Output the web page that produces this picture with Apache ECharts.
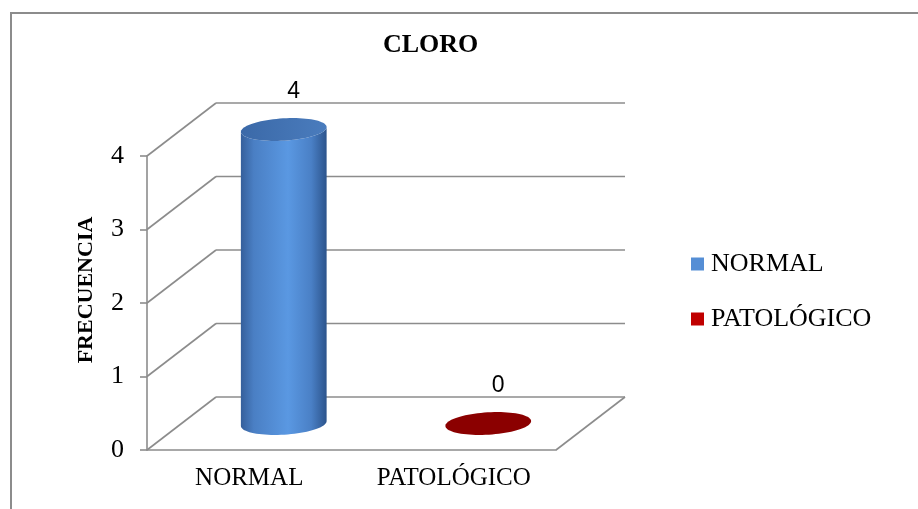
<!DOCTYPE html>
<html>
<head>
<meta charset="utf-8">
<script src="https://cdn.jsdelivr.net/npm/echarts@6/dist/echarts.min.js"></script>
<style>
  html, body { margin: 0; padding: 0; background: #ffffff; }
  #chart { width: 918px; height: 509px; }
</style>
</head>
<body>
<div id="chart"></div>
<script>
// Chart data
const categories = ['NORMAL', 'PATOLÓGICO'];
const frecuencia = [4, 0];
const yTicks = [0, 1, 2, 3, 4];
const chartTitle = 'CLORO';
const yAxisTitle = 'FRECUENCIA';

// Styling
const SERIF = '"Liberation Serif", "Times New Roman", serif';
const seriesColors = ['#558ed5', '#c00000'];
const topColors = [['#3b69a8', '#4a7cbd'], ['#8b0000', '#8b0000']];
const bodyStops = [
  [['#355f9b', 0], ['#4a7fc4', 0.15], ['#5a98e2', 0.55], ['#4a80c6', 0.82], ['#2c548c', 1]],
  [['#7a0000', 0], ['#b00000', 0.5], ['#7a0000', 1]]
];
const DX = 69, DY = -53;          // depth offset of the back wall
const GRID_COLOR = '#8c8c8c';
const TILT = -0.06;               // slight tilt of the cylinder caps

function ellipsePoints(cx, cy, rx, ry, t0, t1, n) {
  const pts = [];
  const c = Math.cos(TILT), s = Math.sin(TILT);
  for (let k = 0; k <= n; k++) {
    const t = t0 + (t1 - t0) * k / n;
    const ex = rx * Math.cos(t), ey = ry * Math.sin(t);
    pts.push([cx + ex * c - ey * s, cy + ex * s + ey * c]);
  }
  return pts;
}

function renderFrame(params, api) {
  const v = api.value(1);
  const cs = params.coordSys;
  const y = api.coord([0, v])[1];
  const x0 = cs.x, x1 = cs.x + cs.width;
  const st = { stroke: GRID_COLOR, lineWidth: 1.6 };
  const children = [
    { type: 'line', shape: { x1: x0, y1: y, x2: x0 + DX, y2: y + DY }, style: st },
    { type: 'line', shape: { x1: x0 + DX, y1: y + DY, x2: x1 + DX, y2: y + DY }, style: st }
  ];
  if (v === yTicks[0]) {
    children.push({ type: 'line', shape: { x1: x1, y1: y, x2: x1 + DX, y2: y + DY }, style: st });
  }
  return { type: 'group', children: children };
}

function makeCylinder(idx) {
  return function (params, api) {
    const cat = api.value(0);
    const v = api.value(1);
    const top = api.coord([cat, v]);
    const base = api.coord([cat, 0]);
    const band = api.size([1, 0])[0];
    const cx = top[0] + DX / 2;
    const topY = top[1] + DY / 2;
    const botY = base[1] + DY / 2;
    const rx = band * 0.21;
    const ry = rx * 0.26;
    const front = ellipsePoints(cx, botY, rx, ry, 0, Math.PI, 40)
      .concat(ellipsePoints(cx, topY, rx, ry, Math.PI, 0, 40));
    const cap = ellipsePoints(cx, topY, rx, ry, 0, Math.PI * 2, 80);
    const stops = bodyStops[idx].map(function (p) { return { offset: p[1], color: p[0] }; });
    const children = [];
    if (botY - topY > 0.5) {
      children.push({
        type: 'polygon',
        shape: { points: front },
        style: { fill: { type: 'linear', x: 0, y: 0, x2: 1, y2: 0, colorStops: stops } }
      });
    }
    children.push({
      type: 'polygon',
      shape: { points: cap },
      style: {
        fill: {
          type: 'linear', x: 0, y: 0, x2: 1, y2: 0,
          colorStops: [{ offset: 0, color: topColors[idx][0] }, { offset: 1, color: topColors[idx][1] }]
        }
      }
    });
    children.push({
      type: 'text',
      style: {
        text: String(v),
        x: cx + 10,
        y: topY - 38,
        align: 'center',
        verticalAlign: 'middle',
        fontSize: 23,
        fontFamily: '"Liberation Sans", Arial, sans-serif',
        fill: '#000000'
      }
    });
    return { type: 'group', children: children };
  };
}

const chart = echarts.init(document.getElementById('chart'), null, { renderer: 'canvas' });

const cylinderSeries = categories.map(function (name, i) {
  return {
    name: name,
    type: 'custom',
    z: 3,
    itemStyle: { color: seriesColors[i] },
    renderItem: makeCylinder(i),
    encode: { x: 0, y: 1 },
    data: [[i, frecuencia[i]]]
  };
});

chart.setOption({
  animation: false,
  backgroundColor: '#ffffff',
  title: {
    text: chartTitle,
    left: 378,
    top: 27,
    textStyle: { fontFamily: SERIF, fontWeight: 'bold', fontSize: 26, color: '#000000' }
  },
  graphic: [{
    type: 'polyline',
    silent: true,
    shape: { points: [[11, 530], [11, 13], [940, 13]] },
    style: { stroke: '#8c8c8c', lineWidth: 2, fill: null }
  }],
  legend: {
    orient: 'vertical',
    left: 686,
    top: 246,
    icon: 'rect',
    itemWidth: 13,
    itemHeight: 13,
    itemGap: 29,
    data: categories,
    textStyle: { fontFamily: SERIF, fontSize: 26, color: '#000000', padding: [0, 0, 0, 2] }
  },
  grid: { left: 147, right: 362, top: 156, bottom: 59 },
  xAxis: {
    type: 'category',
    data: categories,
    boundaryGap: true,
    axisLine: { show: true, lineStyle: { color: GRID_COLOR, width: 1.6 } },
    axisTick: { show: false },
    axisLabel: { margin: 16, fontFamily: SERIF, fontSize: 25, color: '#000000' },
    splitLine: { show: false }
  },
  yAxis: {
    type: 'value',
    min: 0,
    max: 4,
    interval: 1,
    name: yAxisTitle,
    nameLocation: 'middle',
    nameRotate: 90,
    nameGap: 50,
    nameTextStyle: {
      fontFamily: SERIF,
      fontWeight: 'bold',
      fontSize: 22,
      color: '#000000',
      padding: [0, 0, 0, 26]
    },
    axisLine: { show: true, lineStyle: { color: GRID_COLOR, width: 1.6 } },
    axisTick: { show: true, inside: false, length: 7, lineStyle: { color: GRID_COLOR, width: 1.6 } },
    axisLabel: { margin: 23, fontFamily: SERIF, fontSize: 26, color: '#000000' },
    splitLine: { show: false }
  },
  series: [{
    name: 'frame',
    type: 'custom',
    z: 1,
    silent: true,
    renderItem: renderFrame,
    encode: { x: 0, y: 1 },
    data: yTicks.map(function (t) { return [0, t]; })
  }].concat(cylinderSeries)
});
</script>
</body>
</html>
